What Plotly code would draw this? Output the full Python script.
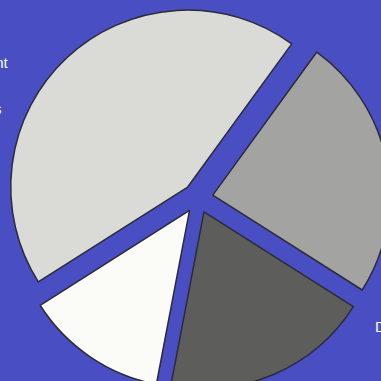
import plotly.graph_objects as go

# Slice data (clockwise from the upper-right gap)
categories = ["Services", "Development", "Supplies", "Equipment"]
shares = [24, 19, 13, 44]
slice_colors = ["#a3a3a1", "#5d5d5b", "#fbfbf8", "#dadad7"]

# Side labels
label_texts = ["Equipment", "Supplies", "Development"]

BG = "#4a4ec3"
W = H = 400

fig = go.Figure(
    go.Pie(
        labels=categories,
        values=shares,
        sort=False,
        direction="clockwise",
        rotation=36,
        pull=[0.085] * len(shares),
        marker=dict(colors=slice_colors, line=dict(color="#2b2b3a", width=1.5)),
        textinfo="none",
        hoverinfo="label+percent",
        domain=dict(x=[6 / W, 390 / W], y=[1 - 390 / H, 1 - 6 / H]),
        showlegend=False,
    )
)

label_font = dict(family="Liberation Sans, Arial, sans-serif", size=15, color="white")
fig.add_annotation(text=label_texts[0], xref="paper", yref="paper",
                   x=10.5 / W, y=1 - 62 / H, xanchor="right", yanchor="middle",
                   showarrow=False, font=label_font)
fig.add_annotation(text=label_texts[1], xref="paper", yref="paper",
                   x=4 / W, y=1 - 109 / H, xanchor="right", yanchor="middle",
                   showarrow=False, font=label_font)
fig.add_annotation(text=label_texts[2], xref="paper", yref="paper",
                   x=373 / W, y=1 - 326 / H, xanchor="left", yanchor="middle",
                   showarrow=False, font=label_font)

fig.update_layout(
    width=W,
    height=H,
    margin=dict(l=0, r=0, t=0, b=0),
    paper_bgcolor=BG,
    plot_bgcolor=BG,
)

fig.write_html(
    "out.html",
    post_script="document.documentElement.style.overflow='hidden';"
                "document.body.style.overflow='hidden';"
                "document.body.style.margin='0';",
)
